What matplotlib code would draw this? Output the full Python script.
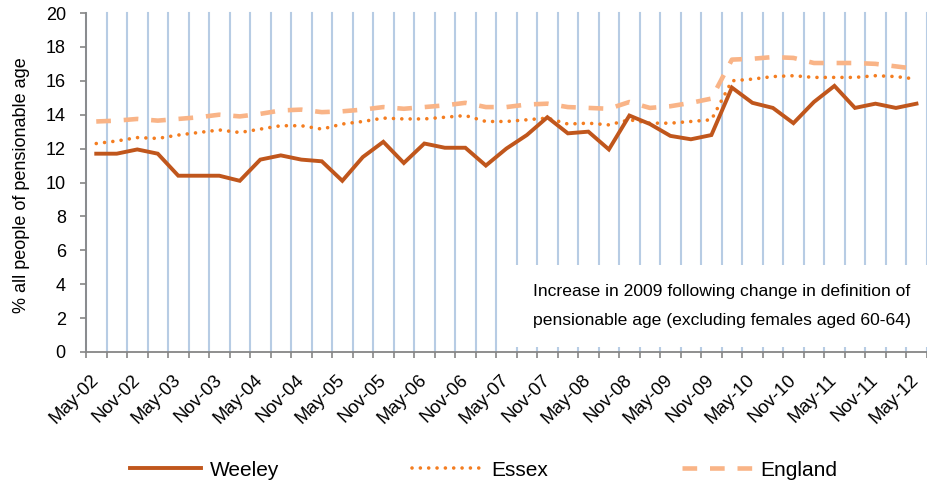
import numpy as np
import matplotlib
matplotlib.use("Agg")
from matplotlib import pyplot as plt
from matplotlib.patches import Rectangle

plt.rcParams["font.family"] = ["Liberation Sans", "DejaVu Sans"]

# quarterly values, May-02 to May-12
weeley = [11.7, 11.7, 11.95, 11.7, 10.4, 10.4, 10.4, 10.1, 11.35, 11.6,
          11.35, 11.25, 10.1, 11.5, 12.4, 11.15, 12.3, 12.05, 12.05, 11.0,
          12.0, 12.8, 13.85, 12.9, 13.0, 11.95, 13.95, 13.45, 12.75, 12.55,
          12.8, 15.6, 14.7, 14.4, 13.5, 14.75, 15.7, 14.4, 14.65, 14.4, 14.65]
essex = [12.3, 12.45, 12.65, 12.6, 12.8, 12.95, 13.1, 12.95, 13.15, 13.35,
         13.35, 13.15, 13.45, 13.6, 13.8, 13.75, 13.75, 13.85, 13.95, 13.6,
         13.6, 13.7, 13.8, 13.45, 13.5, 13.4, 13.7, 13.5, 13.5, 13.6,
         13.7, 16.0, 16.1, 16.25, 16.3, 16.2, 16.2, 16.2, 16.3, 16.25, 16.1]
england = [13.6, 13.65, 13.75, 13.65, 13.75, 13.85, 14.0, 13.9, 14.05, 14.25,
           14.3, 14.15, 14.2, 14.3, 14.45, 14.35, 14.45, 14.55, 14.7, 14.45,
           14.45, 14.6, 14.65, 14.45, 14.4, 14.35, 14.75, 14.4, 14.5, 14.7,
           14.95, 17.25, 17.3, 17.4, 17.35, 17.05, 17.05, 17.05, 17.0, 16.85, 16.7]

# one label every second quarter
tick_labels = ["May-02", "Nov-02", "May-03", "Nov-03", "May-04", "Nov-04",
               "May-05", "Nov-05", "May-06", "Nov-06", "May-07", "Nov-07",
               "May-08", "Nov-08", "May-09", "Nov-09", "May-10", "Nov-10",
               "May-11", "Nov-11", "May-12"]

n = len(weeley)
x = np.arange(n)

fig = plt.figure(figsize=(9.28, 4.87), dpi=100)
ax = fig.add_axes([86 / 928, 1 - 352 / 487, (926.7 - 86) / 928, (352 - 13) / 487])

axis_grey = "#868686"

# vertical gridlines on the category boundaries
for b in np.arange(-0.5, n, 1.0):
    ax.plot([b, b], [0, 20], color="#B7CCE4", lw=1.5, zorder=1, clip_on=False)

# white box behind the note
ax.add_patch(Rectangle((19.9, 0.3), 21, 4.83, facecolor="white",
                       edgecolor="none", zorder=2, clip_on=False))

ax.plot(x, england, color="#F9B487", lw=3.3, linestyle=(0, (3.2, 2.8)),
        dash_capstyle="butt", label="England", zorder=3)
ax.plot(x, essex, color="#F47D20", lw=2.6, linestyle=(0, (0.01, 2.3)),
        dash_capstyle="round", label="Essex", zorder=4)
ax.plot(x, weeley, color="#C0561C", lw=2.8, solid_joinstyle="miter",
        label="Weeley", zorder=5)

ax.set_xlim(-0.5, n - 0.5)
ax.set_ylim(0, 20)
ax.set_yticks(np.arange(0, 21, 2))

ax.set_xticks(x[::2])
ax.set_xticklabels(tick_labels, rotation=45, ha="right", va="center",
                   rotation_mode="anchor")
ax.set_xticks(np.arange(-0.5, n, 1.0), minor=True)
ax.tick_params(axis="x", which="major", length=0, pad=18.5, labelsize=13.3)
ax.tick_params(axis="x", which="minor", length=4, width=1.2, color=axis_grey,
               direction="out")
ax.tick_params(axis="y", length=4.5, width=1.2, color=axis_grey, pad=10,
               labelsize=13)

for s in ["top", "right"]:
    ax.spines[s].set_visible(False)
for s in ["left", "bottom"]:
    ax.spines[s].set_color(axis_grey)
    ax.spines[s].set_linewidth(1.3)

fig.text(21.7 / 928, 1 - 185.5 / 487, "% all people of pensionable age",
         rotation=90, ha="center", va="center", fontsize=13)

fig.text(533 / 928, 1 - 291.7 / 487,
         "Increase in 2009 following change in definition of",
         ha="left", va="center", fontsize=12.6)
fig.text(533 / 928, 1 - 320.7 / 487,
         "pensionable age (excluding females aged 60-64)",
         ha="left", va="center", fontsize=12.6)

h, l = ax.get_legend_handles_labels()
order = [2, 1, 0]
fig.legend([h[i] for i in order], [l[i] for i in order], ncol=3,
           loc="center", bbox_to_anchor=(484 / 928, 1 - 470 / 487),
           frameon=False, fontsize=15, handlelength=3.4, handletextpad=0.4,
           columnspacing=6.4)

fig.savefig("out.png", dpi=100)
